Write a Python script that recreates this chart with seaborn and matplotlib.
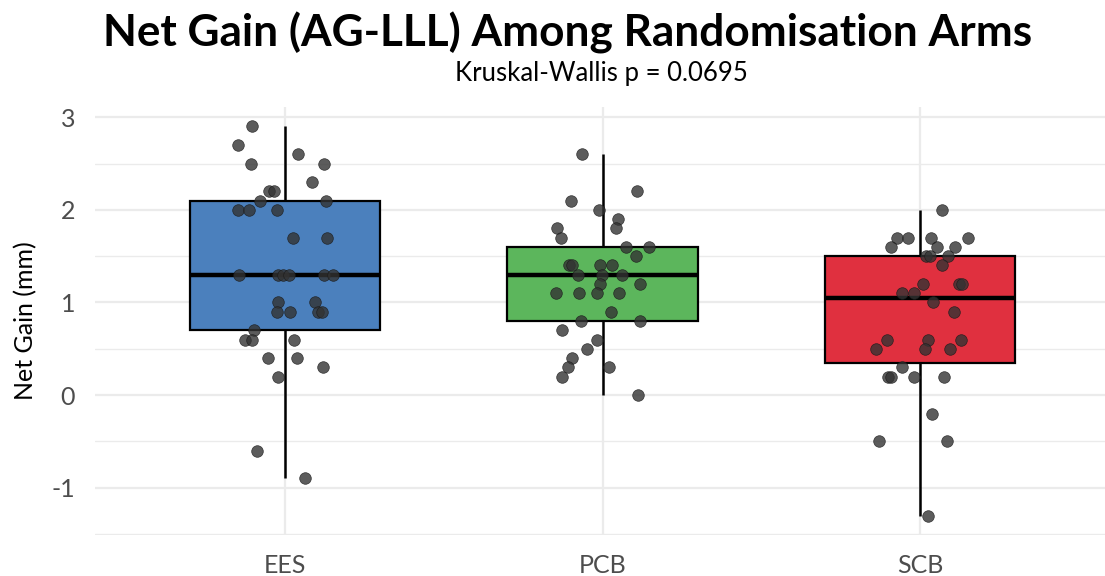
import numpy as np
import pandas as pd
import matplotlib
matplotlib.use("Agg")
import matplotlib.pyplot as plt
from matplotlib.ticker import MultipleLocator
import seaborn as sns

# ---------------------------------------------
# Data
# ---------------------------------------------
arms = ["EES", "PCB", "SCB"]
arm_colors = ["#4B80BD", "#5CB65C", "#E0303F"]

ees_gain = [2.9, 2.7, 2.6, 2.5, 2.5, 2.3, 2.2, 2.2, 2.1, 2.1, 2.0, 2.0, 2.0,
            1.7, 1.7, 1.3, 1.3, 1.3, 1.3, 1.3, 1.3, 1.0, 1.0, 0.9, 0.9, 0.9,
            0.9, 0.7, 0.6, 0.6, 0.6, 0.4, 0.4, 0.3, 0.2, -0.6, -0.9]
ees_jitter = [-0.105, -0.147, 0.040, -0.108, 0.123, 0.084, -0.049, -0.035,
              -0.079, 0.128, -0.147, -0.112, -0.024, 0.024, 0.131, -0.144,
              -0.021, -0.006, 0.013, 0.124, 0.150, -0.021, 0.094, -0.026,
              0.016, 0.104, 0.117, -0.098, -0.126, -0.105, 0.028, -0.054,
              0.039, 0.121, -0.021, -0.089, 0.063]

pcb_gain = [2.6, 2.2, 2.1, 2.0, 1.9, 1.8, 1.8, 1.7, 1.6, 1.6, 1.5, 1.4, 1.4,
            1.4, 1.4, 1.3, 1.3, 1.3, 1.2, 1.2, 1.1, 1.1, 1.1, 1.1, 0.9, 0.8,
            0.8, 0.7, 0.6, 0.5, 0.4, 0.3, 0.3, 0.2, 0.0]
pcb_jitter = [-0.066, 0.109, -0.101, -0.013, 0.047, -0.145, 0.043, -0.130,
              0.075, 0.146, 0.104, -0.107, -0.097, -0.009, 0.031, -0.078,
              -0.002, 0.061, -0.007, 0.119, -0.148, -0.075, -0.018, 0.050,
              0.027, -0.069, 0.119, -0.129, -0.017, -0.048, -0.097, -0.108,
              0.020, -0.129, 0.111]

scb_gain = [2.0, 1.7, 1.7, 1.7, 1.7, 1.6, 1.6, 1.6, 1.5, 1.5, 1.5, 1.4, 1.2,
            1.2, 1.2, 1.1, 1.1, 1.0, 0.9, 0.6, 0.6, 0.6, 0.5, 0.5, 0.5, 0.3,
            0.2, 0.2, 0.2, 0.2, -0.2, -0.5, -0.5, -1.3]
scb_jitter = [0.068, -0.073, -0.039, 0.035, 0.152, -0.092, 0.053, 0.108,
              0.019, 0.031, 0.089, 0.070, 0.010, 0.121, 0.131, -0.058,
              -0.018, 0.040, 0.107, -0.105, 0.026, 0.129, -0.140, 0.014,
              0.094, -0.056, -0.100, -0.091, -0.018, 0.076, 0.038, -0.131,
              0.084, 0.026]

title = "Net Gain (AG-LLL) Among Randomisation Arms"
subtitle = "Kruskal-Wallis p = 0.0695"

# ---------------------------------------------
# Build long table
# ---------------------------------------------
df = pd.DataFrame({
    "Arm": ["EES"] * len(ees_gain) + ["PCB"] * len(pcb_gain) + ["SCB"] * len(scb_gain),
    "Gain": ees_gain + pcb_gain + scb_gain,
    "Jitter": ees_jitter + pcb_jitter + scb_jitter,
})
df["Xpos"] = df["Arm"].map({a: i for i, a in enumerate(arms)}) + df["Jitter"]

# ---------------------------------------------
# Plot
# ---------------------------------------------
sns.set_style("white")
plt.rcParams["font.family"] = ["Lato", "DejaVu Sans"]
plt.rcParams["axes.unicode_minus"] = False

W, H = 1105, 576
fig = plt.figure(figsize=(W / 100, H / 100), dpi=100)
ax = fig.add_axes([94.5 / W, 1 - 535 / H, (1106 - 94.5) / W, (535 - 107) / H])

sns.boxplot(data=df, x="Arm", y="Gain", hue="Arm", order=arms, hue_order=arms,
            palette=arm_colors, saturation=1, width=0.6, linewidth=1.6,
            linecolor="black", showfliers=False, whis=1.5, legend=False, ax=ax,
            medianprops={"linewidth": 3.2, "color": "black"},
            whiskerprops={"linewidth": 1.8},
            capprops={"linewidth": 0}, zorder=2)

sns.scatterplot(data=df, x="Xpos", y="Gain", color="#333333", alpha=0.8,
                s=70, edgecolor="#1a1a1a", linewidth=0.5, ax=ax, zorder=3)

ax.set_xlim(-0.6, 2.585)
ax.set_ylim(-1.51, 3.11)
ax.yaxis.set_major_locator(MultipleLocator(1))
ax.yaxis.set_minor_locator(MultipleLocator(0.5))
ax.set_xticks(range(len(arms)))
ax.set_xticklabels(arms)
ax.grid(True, which="major", color="#EBEBEB", linewidth=1.6, zorder=0)
ax.grid(True, which="minor", axis="y", color="#EBEBEB", linewidth=1.0, zorder=0)
ax.set_axisbelow(True)
for s in ax.spines.values():
    s.set_visible(False)
ax.tick_params(axis="both", which="both", length=0, labelsize=18,
               labelcolor="#4D4D4D")
ax.tick_params(axis="x", pad=14)
ax.tick_params(axis="y", pad=14)
ax.set_xlabel("")
ax.set_ylabel("Net Gain (mm)", fontsize=18, color="black", labelpad=10)

fig.text(568 / W, 1 - 33 / H, title, ha="center", va="center",
         fontsize=31.8, fontweight="bold", color="black")
fig.text(601 / W, 1 - 74 / H, subtitle, ha="center", va="center",
         fontsize=18.5, color="black")

fig.savefig("out.png", dpi=100)
